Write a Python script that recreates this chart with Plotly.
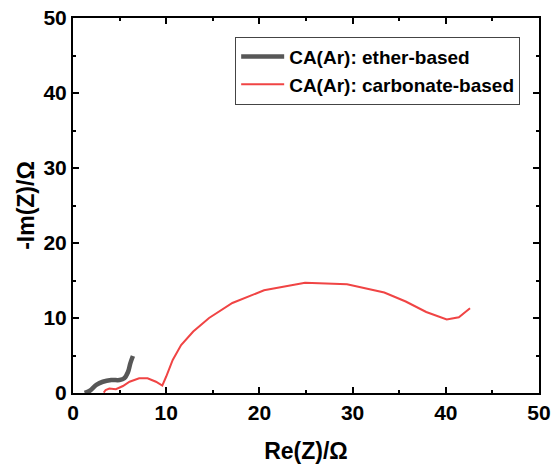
import plotly.graph_objects as go

# Nyquist data, Re(Z) / -Im(Z) in ohm
ether_re = [1.25, 1.8, 2.5, 3.2, 4.1, 5.0, 5.5, 5.9, 6.15, 6.43]
ether_im = [0.0, 0.3, 1.07, 1.5, 1.73, 1.73, 1.96, 2.8, 3.96, 4.93]

carb_re = [3.3, 3.5, 3.9, 4.6, 5.36, 6.07, 7.1, 8.0, 8.9, 9.58, 10.0, 10.7, 11.6,
           12.9, 14.6, 17.1, 20.5, 24.9, 29.4, 33.4, 35.7, 37.9, 40.1, 41.4, 42.6]
carb_im = [0.05, 0.4, 0.6, 0.5, 0.93, 1.5, 1.96, 1.96, 1.5, 0.98, 2.2, 4.4, 6.4,
           8.2, 10.0, 12.0, 13.7, 14.7, 14.5, 13.4, 12.2, 10.8, 9.8, 10.1, 11.3]

x_ticks = [0, 10, 20, 30, 40, 50]
y_ticks = [0, 10, 20, 30, 40, 50]

FONT = "Liberation Sans, Arial, sans-serif"

fig = go.Figure()
fig.add_trace(go.Scatter(x=ether_re, y=ether_im, mode="lines",
                         name="CA(Ar): ether-based",
                         line=dict(color="#575757", width=4.5, shape="spline")))
fig.add_trace(go.Scatter(x=carb_re, y=carb_im, mode="lines",
                         name="CA(Ar): carbonate-based",
                         line=dict(color="#f04444", width=2)))

axis_common = dict(
    showline=True, linecolor="black", linewidth=2, mirror="allticks",
    ticks="inside", ticklen=6, tickwidth=2, tickcolor="black",
    showgrid=False, zeroline=False, automargin=False,
    tickfont=dict(family=FONT, size=21, color="black", weight="bold"),
    minor=dict(ticks="inside", ticklen=3, tickwidth=2, tickcolor="black", dtick=5),
)

fig.update_layout(
    width=552, height=469,
    margin=dict(l=73, r=13, t=18, b=76, autoexpand=False),
    paper_bgcolor="white", plot_bgcolor="white",
    xaxis=dict(range=[0, 50], tickvals=x_ticks,
               title=dict(text="Re(Z)/Ω", standoff=20,
                          font=dict(family=FONT, size=23, color="black", weight="bold")),
               **axis_common),
    yaxis=dict(range=[0, 50], tickvals=y_ticks,
               title=dict(text="-Im(Z)/Ω", standoff=2,
                          font=dict(family=FONT, size=23, color="black", weight="bold")),
               **axis_common),
    legend=dict(x=0.348, y=0.95, xanchor="left", yanchor="top",
                bgcolor="white", bordercolor="#444444", borderwidth=1,
                font=dict(family=FONT, size=19, color="black", weight="bold"),
                itemwidth=43, tracegroupgap=0),
    showlegend=True,
)

fig.write_html("out.html")
